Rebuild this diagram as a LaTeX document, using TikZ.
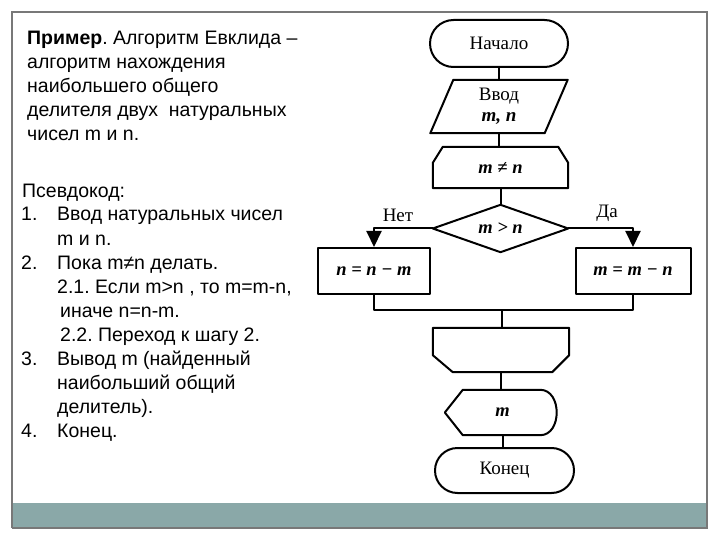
\documentclass[tikz,border=0pt]{standalone}
\usepackage{fontspec}
\setmainfont{Liberation Serif}
\newfontfamily\arialf{Liberation Sans}
\usetikzlibrary{arrows.meta,shapes.misc}
\frenchspacing
\begin{document}
\begin{tikzpicture}[x=1pt,y=-1pt,
  fl/.style={line width=2pt, line join=round},
  shp/.style={draw=none, inner sep=0pt, font=\fontsize{19}{21}\selectfont},
  term/.style={shape=rounded rectangle, draw, fl, inner sep=0pt, font=\fontsize{19}{21}\selectfont},
  arr/.style={fl, -{Triangle[width=15pt,length=16pt]}},
  lt/.style={anchor=base west, inner sep=0pt, font=\arialf\fontsize{19.5}{22}\selectfont},
  lbl/.style={inner sep=0pt, font=\fontsize{19}{21}\selectfont},
  mth/.style={font=\fontsize{18.5}{21}\selectfont\bfseries\itshape}
]
\useasboundingbox (0,0) rectangle (720,540);
\fill[white] (0,0) rectangle (720,540);
% frame and band
\fill[fill={rgb,255:red,138;green,168;blue,168}] (12,503) rectangle (707,528);
\draw[line width=1.2pt, draw={rgb,255:red,120;green,120;blue,120}] (12,528) -- (12,12) -- (707,12) -- (707,528) -- (12,528);

% left text
\node[lt] (t1) at (27,45) {\textbf{Пример}. Алгоритм Евклида –};
\node[lt] (t2) at (27,69) {алгоритм нахождения};
\node[lt] (t3) at (27,93) {наибольшего общего};
\node[lt] (t4) at (27,117) {делителя двух\ \ натуральных};
\node[lt] (t5) at (27,141) {чисел m и n.};
\node[lt] (p0) at (22,197) {Псевдокод:};
\node[lt] (n1) at (21,221) {1.};
\node[lt] (p1) at (57,221) {Ввод натуральных чисел};
\node[lt] (p1b) at (57,245) {m и n.};
\node[lt] (n2) at (21,269) {2.};
\node[lt] (p2) at (57,269) {Пока m≠n делать.};
\node[lt] (p21) at (57,293) {2.1. Если m>n , то m=m-n,};
\node[lt] (p21b) at (60,317) {иначе n=n-m.};
\node[lt] (p22) at (60,341) {2.2. Переход к шагу 2.};
\node[lt] (n3) at (21,365) {3.};
\node[lt] (p3) at (57,365) {Вывод m (найденный};
\node[lt] (p3b) at (57,389) {наибольший общий};
\node[lt] (p3c) at (57,413) {делитель).};
\node[lt] (n4) at (21,437) {4.};
\node[lt] (p4) at (57,437) {Конец.};

% flowchart nodes
\node[term, minimum width=138pt, minimum height=47pt] (start) at (499,43.5) {Начало};
\node[shp, minimum width=137pt, minimum height=53pt, align=center] (inp) at (499,106.5) {Ввод\\[0pt]{\bfseries\itshape m, n}};
\draw[fl] ([xshift=23pt]inp.north west) -- (inp.north east) -- ([xshift=-23pt]inp.south east) -- (inp.south west) -- cycle;
\node[shp, minimum width=135pt, minimum height=41pt, mth] (ls) at (500.5,167.5) {m ≠ n};
\draw[fl] (ls.south west) -- ([yshift=-16pt]ls.north west) -- ([xshift=10pt]ls.north west) -- ([xshift=-10pt]ls.north east) -- ([yshift=-16pt]ls.north east) -- (ls.south east) -- cycle;
\node[shp, minimum width=135pt, minimum height=47pt, mth] (dia) at (500.5,228.5) {m > n};
\draw[fl] (dia.north) -- (dia.east) -- (dia.south) -- (dia.west) -- cycle;
\node[shp, draw, fl, minimum width=112pt, minimum height=46pt, mth] (lb) at (374,271) {n = n − m};
\node[shp, draw, fl, minimum width=115pt, minimum height=46pt, mth] (rb) at (633,271) {m = m − n};
\coordinate (join) at (502,310);
\node[shp, minimum width=136pt, minimum height=44pt] (le) at (501,350) {};
\draw[fl] (le.north west) -- (le.north east) -- ([yshift=17pt]le.south east) -- ([xshift=-17pt]le.south east) -- ([xshift=20pt]le.south west) -- ([yshift=17pt]le.south west) -- cycle;
\node[shp, minimum width=115pt, minimum height=45pt, mth] (out) at (502.5,412.5) {m};
\draw[fl] (out.west) -- ([xshift=18pt]out.north west) -- ([xshift=-20pt]out.north east) .. controls ([xshift=2pt]out.north east) and ([xshift=2pt]out.south east) .. ([xshift=-20pt]out.south east) -- ([xshift=18pt]out.south west) -- cycle;
\node[term, minimum width=139pt, minimum height=45pt] (fin) at (504.5,470.5) {Конец};

% connectors
\draw[fl] (start.south) -- (start.south |- inp.north);
\draw[fl] (inp.south) -- (inp.south |- ls.north);
\draw[fl] (ls.south) -- (ls.south |- dia.north);
\draw[arr] (dia.west) -| (lb.north);
\draw[arr] (dia.east) -| (rb.north);
\draw[fl] (lb.south) |- (join) -| (rb.south);
\draw[fl] (join) -- (join |- le.north);
\draw[fl] (le.south) -- (le.south |- out.north);
\draw[fl] (out.south) -- (out.south |- fin.north);

% labels
\node[lbl] (no) at (398,215) {Нет};
\node[lbl] (yes) at (607,213) {Да};
\end{tikzpicture}
\end{document}
